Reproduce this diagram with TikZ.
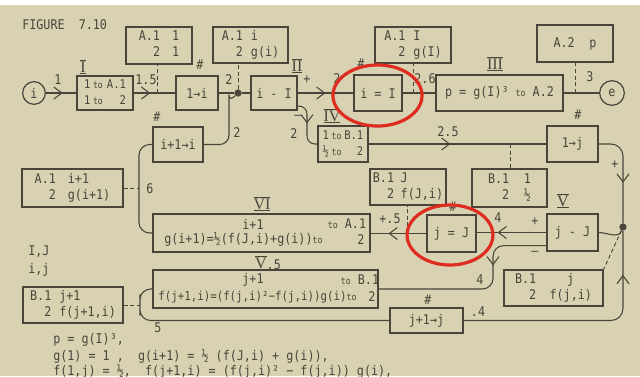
\documentclass[tikz,border=0pt]{standalone}
\usepackage{fontspec}
\setmainfont{DejaVu Sans Mono}[FakeStretch=0.88]
\newfontfamily\serifnum{Liberation Serif}
\usetikzlibrary{arrows.meta,decorations.markings}
\definecolor{paper}{RGB}{216,210,178}
\definecolor{ink}{RGB}{74,68,58}
\definecolor{redmark}{RGB}{222,44,32}
\newcommand\tosm{{\fontsize{7}{7}\selectfont to}}
\newcommand\rnum[1]{{\setbox0\hbox{\fontsize{12}{12}\serifnum #1}\vbox{\hrule height0.6pt\kern0.6pt\copy0\kern0.6pt\hrule height0.6pt}}}
% box from pixel corners: name, x1, y1, x2, y2, text
\newcommand\bx[6]{\node[box, minimum width={(#4-#2)*0.75pt}, minimum height={(#5-#3)*0.75pt}] (#1) at ({(#2+#4)/2},{(#3+#5)/2}) {#6};}
\begin{document}
\begin{tikzpicture}[x=0.75pt,y=-0.75pt,
  every node/.style={text=ink, font=\fontsize{10}{12}\selectfont},
  box/.style={draw=ink, line width=0.9pt, inner sep=0pt, align=center},
  lbl/.style={inner sep=0pt},
  conn/.style={draw, color=ink, line width=0.8pt},
  dashline/.style={draw, color=ink, line width=0.7pt, dash pattern=on 3pt off 2pt},
  midarr/.style={postaction={decorate, decoration={markings, mark=at position #1 with {\arrow{Straight Barb[length=6pt,width=9pt]}}}}},
  ring/.style={circle, draw=ink, line width=0.9pt, inner sep=0pt},
  joint/.style={circle, fill=ink, inner sep=0pt, minimum size=5.5pt},
  oval/.style={draw=redmark, line width=2.4pt}
]
\fill[paper] (0,0) rectangle (640,376);
\fill[white] (0,0) rectangle (640,5);
\useasboundingbox (0,0) rectangle (640,376);
\begin{scope}
\clip (0,0) rectangle (640,376);

% title
\node[lbl, anchor=west] (title) at (22,25) {FIGURE\ \ 7.10};

% top row boxes
\bx{bA11}{126}{27}{192}{64}{\begin{tabular}{@{}r@{\hspace{9pt}}l@{}}A.1 & 1\\ 2 & 1\end{tabular}}
\bx{bAi}{213}{27}{288}{63}{\begin{tabular}{@{}r@{\hspace{6pt}}l@{}}A.1 & i\\ 2 & g(i)\end{tabular}}
\bx{bAI}{375}{27}{451}{63}{\begin{tabular}{@{}r@{\hspace{6pt}}l@{}}A.1 & I\\ 2 & g(I)\end{tabular}}
\bx{bA2}{537}{25}{613}{62}{A.2\hspace{11pt}p}

\node[ring, minimum size=17pt] (ci) at (34,93) {i};
\bx{bI}{77}{76}{133}{110}{\fontsize{9}{12}\selectfont\begin{tabular}{@{}l@{\hspace{3pt}}r@{}}1\hspace{2pt}\tosm & A.1\\ 1\hspace{2pt}\tosm & 2\end{tabular}}
\bx{b1i}{176}{76}{218}{110}{1→i}
\node[joint] (dot1) at (238,93) {};
\bx{bimI}{251}{76}{297}{110}{i - I}
\bx{bieqI}{354}{75}{402}{111}{i = I}
\bx{bIII}{436}{75}{563}{111}{p = g(I)³ \tosm{} A.2}
\node[ring, minimum size=18.5pt] (ce) at (612,93) {e};

% second row
\bx{bi1}{153}{127}{203}{162}{i+1→i}
\bx{bIV}{318}{126}{368}{162}{\fontsize{9}{12}\selectfont\begin{tabular}{@{}l@{\hspace{2pt}}r@{}}1\hspace{2pt}\tosm & B.1\\ ½\hspace{2pt}\tosm & 2\end{tabular}}
\bx{b1j}{547}{126}{598}{162}{1→j}
\bx{bAi1}{22}{169}{123}{207}{\begin{tabular}{@{}r@{\hspace{9pt}}l@{}}A.1 & i+1\\ 2 & g(i+1)\end{tabular}}
\bx{bBJ}{370}{169}{446}{205}{\begin{tabular}{@{}r@{\hspace{5pt}}l@{}}B.1 & J\\ 2 & f(J,i)\end{tabular}}
\bx{bB11}{472}{169}{547}{207}{\begin{tabular}{@{}r@{\hspace{11pt}}l@{}}B.1 & 1\\ 2 & ½\end{tabular}}

% third row
\bx{bVI}{153}{214}{370}{252}{}
\bx{bjeqJ}{427}{215}{476}{252}{j = J}
\bx{bjmJ}{547}{214}{598}{251}{j - J}
\node[joint] (dot2) at (623,227) {};

% fourth row
\bx{bV5}{153}{270}{378}{308}{}
\bx{bBj}{504}{270}{603}{306}{\begin{tabular}{@{}r@{\hspace{10pt}}c@{}}B.1 & j\\ 2 & f(j,i)\end{tabular}}
\bx{bBj1}{23}{287}{123}{323}{\begin{tabular}{@{}r@{\hspace{6pt}}l@{}}B.1 & j+1\\ 2 & f(j+1,i)\end{tabular}}
\bx{bj1j}{390}{308}{463}{333}{j+1→j}

% texts inside VI and V.5
\node[lbl] (vi1) at (253,224) {i+1};
\node[lbl] (vi2) at (347,224) {\tosm\ A.1};
\node[lbl, anchor=west] (vi3) at (164,240) {g(i+1)=½(f(J,i)+g(i))\tosm};
\node[lbl] (vi4) at (361,240) {2};
\node[lbl] (v51) at (253,280) {j+1};
\node[lbl] (v52) at (360,280) {\tosm\ B.1};
\node[lbl, anchor=west, font=\fontsize{9.2}{12}\selectfont] (v53) at (158,297) {f(j+1,i)=(f(j,i)²−f(j,i))g(i)\tosm};
\node[lbl] (v54) at (372,297) {2};

% coordinates
\coordinate (d15) at (157,93);
\coordinate (d26) at (413,93);
\coordinate (d3) at (575,93);
\coordinate (m4) at (307,144);
\coordinate (d25) at (510,144);
\coordinate (d45) at (407,233);
\coordinate (c6) at (139,188);
\coordinate (c2) at (229,104);
\coordinate (c5) at (140,305);
\coordinate (c4) at (493,289);

% connectors
\draw[conn, midarr=0.55] (ci) -- (bI);
\draw[conn, midarr=0.4] (bI) -- (b1i);
\draw[dashline] (d15) -- (d15 |- bA11.south);
\draw[conn] (b1i) -- (dot1);
\draw[dashline] (dot1) -- (dot1 |- bAi.south);
\draw[conn] (dot1) -- (bimI);
\draw[conn, midarr=0.5] (bimI) -- (bieqI);
\draw[conn] (bieqI) -- (bIII);
\draw[dashline] (d26) -- (d26 |- bAI.south);
\draw[conn] (bIII) -- (ce);
\draw[dashline] (d3) -- (d3 |- bA2.south);
\draw[conn, rounded corners=6pt, midarr=0.46] ([yshift=-9.75pt]bimI.east) -| (m4) -- (bIV.west);
\draw[conn, midarr=0.46] (bIV) -- (b1j);
\draw[dashline] (d25) -- (d25 |- bB11.north);
\draw[conn, rounded corners=9pt, midarr=0.59] (b1j.east) -| (dot2);
\draw[conn] (bjmJ.east) to[out=0,in=-110] (dot2);
\draw[dashline] (dot2) -- (bBj.north east);
\draw[conn, midarr=0.7] (bjmJ.west) -- (bjmJ.west -| bjeqJ.east);
\draw[conn, midarr=0.68] (bjeqJ.west) -- (bjeqJ.west -| bVI.east);
\draw[dashline] (d45) -- (d45 |- bBJ.south);
\draw[conn, rounded corners=8pt] (bVI.west) -| (c6) |- (bi1.west);
\draw[dashline] (bAi1.east) -- (c6);
\draw[conn, rounded corners=7pt] (bi1.east) -| (c2) to[out=90,in=225] (dot1);
\draw[conn, rounded corners=8pt] (bV5.west) -| (c5) |- (bj1j.west);
\draw[dashline] (bBj1.east) -- (c5);
\draw[conn, rounded corners=8pt, midarr=0.34] ([yshift=4.5pt]bjmJ.south west) -| (c4) -- (bV5.east);
\draw[conn, rounded corners=9pt, midarr=0.82] (bj1j.east) -| (dot2);

% connector labels
\node[lbl] (l1) at (58,80) {1};
\node[lbl] (l15) at (146,80) {1.5};
\node[lbl] (l2a) at (229,80) {2};
\node[lbl] (lp1) at (307,80) {+};
\node[lbl] (l2b) at (337,79) {2};
\node[lbl] (l26) at (425,79) {2.6};
\node[lbl] (l3) at (590,77) {3};
\node[lbl] (lm1) at (298,117) {–};
\node[lbl] (l2c) at (294,134) {2};
\node[lbl] (l2d) at (237,133) {2};
\node[lbl] (l6) at (150,189) {6};
\node[lbl] (l25) at (448,132) {2.5};
\node[lbl] (lp2) at (615,165) {+};
\node[lbl] (lp5) at (390,219) {+.5};
\node[lbl] (l4a) at (498,218) {4};
\node[lbl] (lp3) at (535,222) {+};
\node[lbl] (lm2) at (535,253) {–};
\node[lbl] (l4b) at (480,280) {4};
\node[lbl] (l4c) at (478,312) {.4};
\node[lbl] (l5) at (158,328) {5};

% hash marks
\node[lbl] (h1) at (200,65) {\#};
\node[lbl] (h2) at (361,64) {\#};
\node[lbl] (h3) at (157,117) {\#};
\node[lbl] (h4) at (578,115) {\#};
\node[lbl] (h5) at (453,207) {\#};
\node[lbl] (h6) at (428,300) {\#};

% roman numerals
\node[lbl] (rI) at (83,67) {\rnum{I}};
\node[lbl] (rII) at (297,66) {\rnum{II}};
\node[lbl] (rIII) at (495,64) {\rnum{III}};
\node[lbl] (rIV) at (332,116) {\rnum{IV}};
\node[lbl] (rV) at (563,201) {\rnum{V}};
\node[lbl] (rVI) at (262,204) {\rnum{VI}};
\node[lbl] (rV5) at (268,263) {\rnum{V}.5};

% side notes
\node[lbl, anchor=west] (n1) at (28,252) {I,J};
\node[lbl, anchor=west] (n2) at (28,270) {i,j};
\node[lbl, anchor=west] (f1) at (53,340) {p = g(I)³,};
\node[lbl, anchor=west] (f2) at (53,357) {g(1) = 1 ,\ \ g(i+1) = ½ (f(J,i) + g(i)),};
\node[lbl, anchor=west] (f3) at (53,372) {f(1,j) = ½,\ \ f(j+1,i) = (f(j,i)² − f(j,i)) g(i),};

% red ellipses
\draw[oval] (377.5,95.5) ellipse [x radius=33.4pt, y radius=22.9pt];
\draw[oval] (450,235) ellipse [x radius=32.2pt, y radius=22.5pt];
\end{scope}
\end{tikzpicture}
\end{document}
